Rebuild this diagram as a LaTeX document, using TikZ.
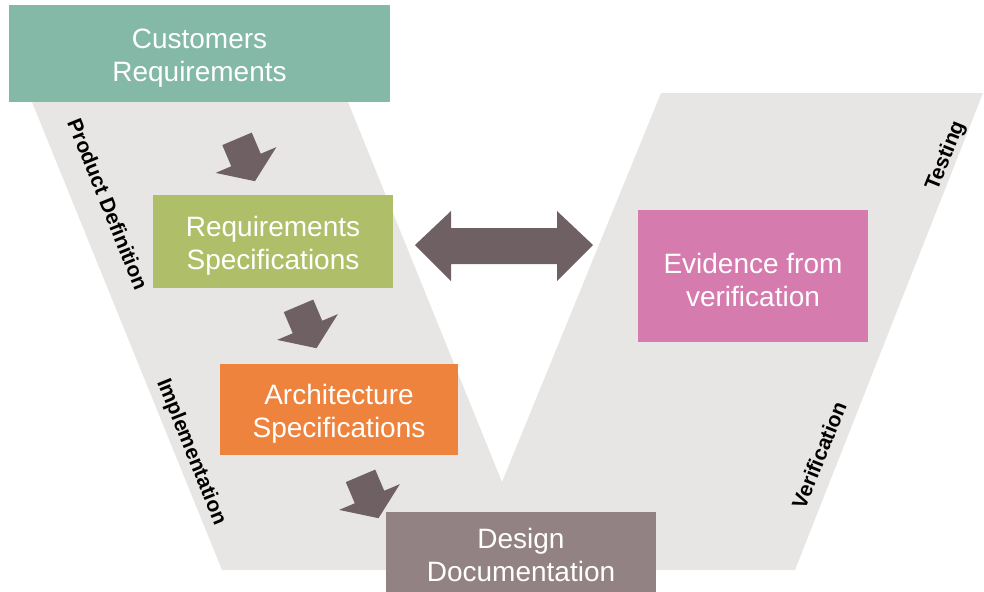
\documentclass[tikz,border=0pt]{standalone}
\usepackage{fontspec}
\setmainfont{Liberation Sans}
\definecolor{bandgray}{HTML}{E7E6E5}
\definecolor{custgreen}{HTML}{84B8A7}
\definecolor{reqgreen}{HTML}{AFBF69}
\definecolor{archorange}{HTML}{EE833E}
\definecolor{designmauve}{HTML}{938283}
\definecolor{evidpink}{HTML}{D67BAE}
\definecolor{arrowbrown}{HTML}{6F6163}
\newcommand\topgap{\rule{0pt}{14.5pt}}
\begin{document}
\begin{tikzpicture}[x=0.5pt,y=-0.5pt,
	box/.style={rectangle,inner sep=0,text=white,align=center,
		font=\fontsize{14}{16.5}\selectfont},
	phase/.style={inner sep=0,font=\bfseries\fontsize{10.5}{12}\selectfont},
	downarrow/.pic={\fill[arrowbrown] (-23,-16) -- (0,-16) -- (0,-33) -- (23,0)
		-- (0,33) -- (0,16) -- (-23,16) -- cycle;}]
\useasboundingbox (0,0) rectangle (984,591);
% the V
\fill[bandgray] (32,102) -- (222,570) -- (795,570) -- (983,93) -- (661,93)
	-- (502,482) -- (348,102) -- cycle;
% boxes
\node[box,fill=custgreen,minimum width=190.5pt,minimum height=48.5pt] (cust) at (199.5,53.5)
	{\topgap Customers\\Requirements};
\node[box,fill=reqgreen,minimum width=120pt,minimum height=46.5pt] (req) at (273,241.5)
	{\topgap Requirements\\Specifications};
\node[box,fill=archorange,minimum width=119pt,minimum height=45.5pt] (arch) at (339,409.5)
	{\topgap Architecture\\Specifications};
\node[box,fill=designmauve,minimum width=135pt,minimum height=42.5pt] (design) at (521,554.5)
	{Design\\Documentation};
\node[box,fill=evidpink,minimum width=115pt,minimum height=66pt] (evid) at (753,276)
	{\topgap Evidence from\\verification};
% arrows
\pic[rotate=-67] at (246,160) {downarrow};
\pic[rotate=-67] at (307.5,327) {downarrow};
\pic[rotate=-67] at (369.5,497) {downarrow};
\fill[arrowbrown] (415,245) -- (451,211) -- (451,228) -- (557,228) -- (557,211)
	-- (593,245) -- (557,281) -- (557,264) -- (451,264) -- (451,281) -- cycle;
% side labels
\node[phase,rotate=-68] (pd) at (108,204) {Product Definition};
\node[phase,rotate=-68] (impl) at (191,452) {Implementation};
\node[phase,rotate=68] (test) at (946,156) {Testing};
\node[phase,rotate=68] (verif) at (819,455) {Verification};
\end{tikzpicture}
\end{document}
